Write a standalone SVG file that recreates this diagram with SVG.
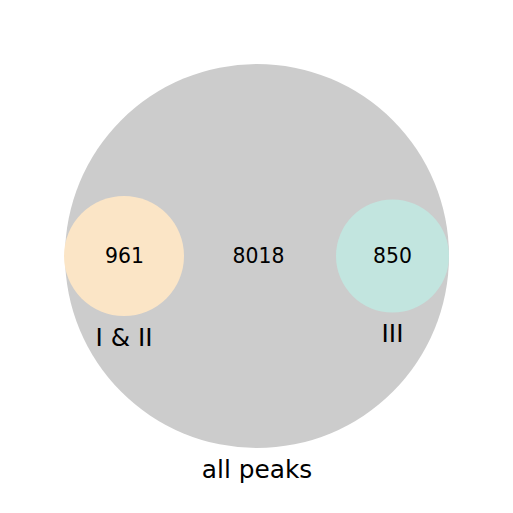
<svg xmlns="http://www.w3.org/2000/svg" width="513" height="513" viewBox="0 0 513 513">
<style>
text{font-family:"DejaVu Sans",sans-serif;fill:#000;text-anchor:middle}
.n{font-size:20.4px}
.l{font-size:24.8px}
</style>
<rect width="513" height="513" fill="#fff"/>
<g id="all-peaks">
<circle cx="257" cy="256" r="192" fill="#cccccc"/>
<text class="n" x="258.5" y="263.4">8018</text>
<text class="l" x="257" y="478">all peaks</text>
</g>
<g id="I-II">
<circle cx="124" cy="256" r="60" fill="#fbe5c6"/>
<text class="n" x="124.5" y="263.4">961</text>
<text class="l" x="124" y="346">I &amp; II</text>
</g>
<g id="III">
<circle cx="392.5" cy="256" r="56.5" fill="#c2e5df"/>
<text class="n" x="392.5" y="263.4">850</text>
<text class="l" x="392.5" y="342">III</text>
</g>
<g id="connectors"/>
</svg>
